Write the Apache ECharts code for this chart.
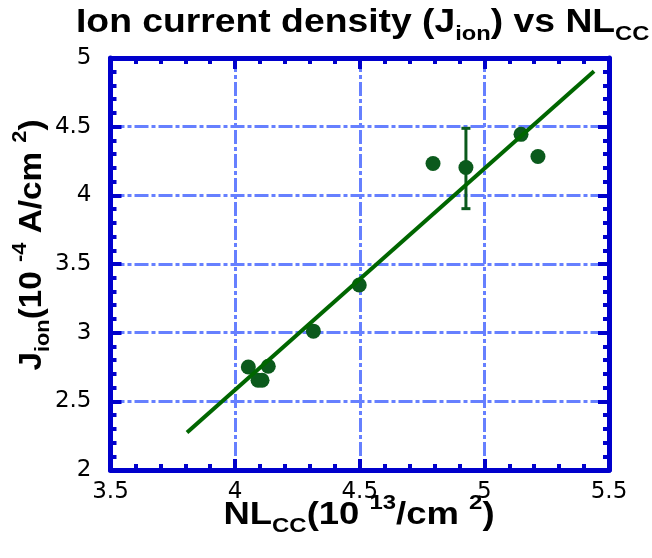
<!DOCTYPE html>
<html><head><meta charset="utf-8">
<script src="https://cdn.jsdelivr.net/npm/echarts@6/dist/echarts.min.js"></script>
<style>html,body{margin:0;padding:0;background:#fff}#c{width:652px;height:558px}</style>
</head><body><div id="c"></div>
<script>
const nlcc = [4.053, 4.133, 4.092, 4.108, 4.314, 4.498, 4.794, 4.926, 5.147, 5.215];
const jion = [2.750, 2.755, 2.653, 2.653, 3.011, 3.347, 4.232, 4.203, 4.444, 4.283];
const errX = [4.926];
const errLow = [3.903];
const errHigh = [4.488];
const fitX = [3.807, 5.44];
const fitY = [2.273, 4.904];
const xTicks = ['3.5', '4', '4.5', '5', '5.5'];
const yTicks = ['2', '2.5', '3', '3.5', '4', '4.5', '5'];

const FONT = 'Liberation Sans, Arial, sans-serif';
const TICKFONT = 'DejaVu Sans, Liberation Sans, sans-serif';
const frame = '#0000cc';
const gridC = '#6680ff';
const dash = [14, 3, 4, 3];

const chart = echarts.init(document.getElementById('c'), null, {renderer: 'canvas'});

function axisCommon(isX, showLabel, pos) {
  const ticks = isX ? xTicks : yTicks;
  const mn = isX ? 3.5 : 2;
  return {
    type: 'value', position: pos,
    min: mn, max: isX ? 5.5 : 5, interval: 0.5,
    axisLine: {show: true, onZero: false, lineStyle: {color: frame, width: 5}},
    axisTick: {show: true, inside: true, length: 11, lineStyle: {color: frame, width: 4}},
    minorTick: {show: true, splitNumber: 5, length: 6, lineStyle: {color: frame, width: 4}},
    splitLine: {show: showLabel, lineStyle: {color: gridC, width: 3, type: dash}},
    axisLabel: {
      show: showLabel, color: '#000', fontFamily: TICKFONT, fontSize: 23,
      margin: isX ? 11 : 19,
      formatter: v => ticks[Math.round((v - mn) / 0.5)]
    }
  };
}

function richSet(main, small) {
  return {
    m: {fontFamily: FONT, fontWeight: 'bold', fontSize: main, lineHeight: 44, fill: '#000'},
    s: {fontFamily: FONT, fontWeight: 'bold', fontSize: small, lineHeight: 16, verticalAlign: 'bottom', fill: '#000'},
    p: {fontFamily: FONT, fontWeight: 'bold', fontSize: small, lineHeight: 30, verticalAlign: 'top', fill: '#000'}
  };
}

const option = {
  animation: false,
  backgroundColor: '#fff',
  grid: {left: 110.5, right: 43, top: 58, bottom: 88, containLabel: false},
  xAxis: [axisCommon(true, true, 'bottom'), axisCommon(true, false, 'top')],
  yAxis: [axisCommon(false, true, 'left'), axisCommon(false, false, 'right')],
  graphic: [
    {
      type: 'text', x: 76, y: 1, scaleX: 1.13, z: 10,
      style: {
        text: '{m|Ion current density (J}{s|ion}{m|) vs NL}{s|CC}',
        align: 'left', verticalAlign: 'top',
        rich: richSet(33, 21)
      }
    },
    {
      type: 'text', x: 32, y: 245, rotation: Math.PI / 2, scaleX: 1.04, z: 10,
      style: {
        text: '{m|J}{s|ion}{m|(10 }{p|-4}{m| A/cm }{p|2}{m|)}',
        align: 'center', verticalAlign: 'middle',
        rich: richSet(32, 21)
      }
    },
    {
      type: 'text', x: 359, y: 515, scaleX: 1.14, z: 10,
      style: {
        text: '{m|NL}{s|CC}{m|(10 }{p|13}{m|/cm }{p|2}{m|)}',
        align: 'center', verticalAlign: 'middle',
        rich: richSet(32, 21)
      }
    }
  ],
  series: [
    {
      type: 'custom', z: 3,
      data: errX.map((x, i) => [x, errLow[i], errHigh[i]]),
      renderItem: function (params, api) {
        const lo = api.coord([api.value(0), api.value(1)]);
        const hi = api.coord([api.value(0), api.value(2)]);
        const w = 4.5;
        const st = {stroke: '#0b5a1c', lineWidth: 3};
        return {type: 'group', children: [
          {type: 'line', shape: {x1: lo[0], y1: lo[1], x2: hi[0], y2: hi[1]}, style: st},
          {type: 'line', shape: {x1: lo[0] - w, y1: lo[1], x2: lo[0] + w, y2: lo[1]}, style: st},
          {type: 'line', shape: {x1: hi[0] - w, y1: hi[1], x2: hi[0] + w, y2: hi[1]}, style: st}
        ]};
      }
    },
    {
      type: 'scatter', z: 4,
      data: nlcc.map((x, i) => [x, jion[i]]),
      symbol: 'circle', symbolSize: 15,
      itemStyle: {color: '#0b5a1c', opacity: 1}
    },
    {
      type: 'line', z: 5,
      data: fitX.map((x, i) => [x, fitY[i]]),
      symbol: 'none',
      lineStyle: {color: '#006600', width: 4}
    }
  ]
};
chart.setOption(option);
</script>
</body></html>
